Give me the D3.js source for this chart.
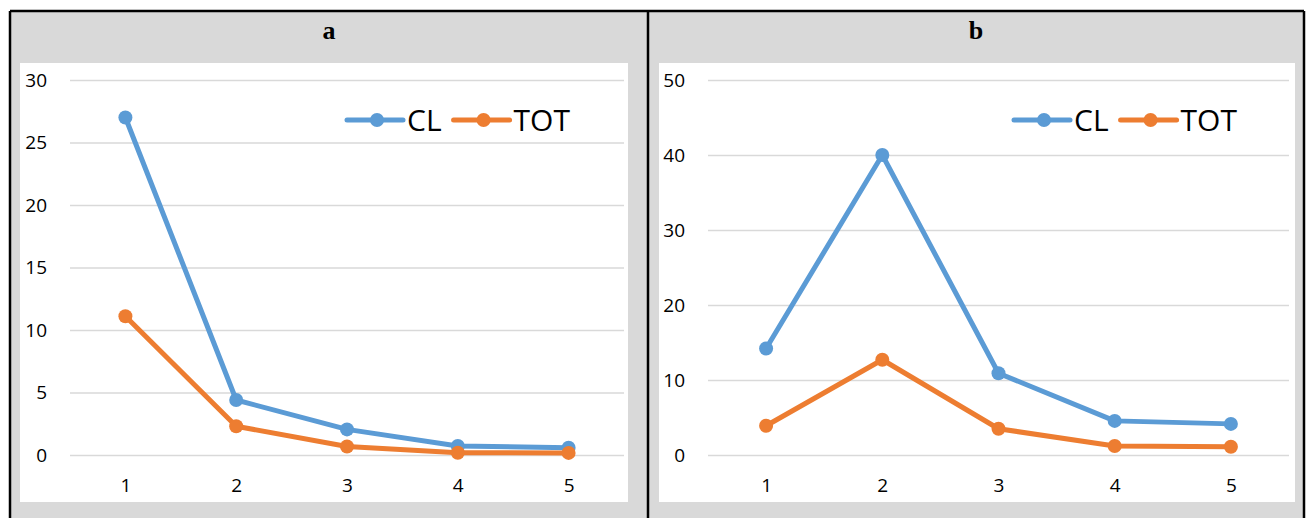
<!DOCTYPE html>
<html>
<head>
<meta charset="utf-8">
<script src="https://cdn.jsdelivr.net/npm/d3@7/dist/d3.min.js"></script>
<style>
  html, body { margin: 0; padding: 0; background: #ffffff; }
  svg { display: block; }
</style>
</head>
<body>
<svg id="chart" width="1306" height="518"></svg>
<script>
// Category labels shared by both panels
const categories = [1, 2, 3, 4, 5];
const panelTitles = ["a", "b"];
const seriesNames = ["CL", "TOT"];

// Panel a values
const clA  = [27.0, 4.4, 2.05, 0.72, 0.58];
const totA = [11.1, 2.3, 0.68, 0.18, 0.17];

// Panel b values
const clB  = [14.2, 40.0, 10.9, 4.55, 4.15];
const totB = [3.9, 12.7, 3.5, 1.2, 1.1];

// Y tick labels
const ticksA = [0, 5, 10, 15, 20, 25, 30];
const ticksB = [0, 10, 20, 30, 40, 50];

const colors = { CL: "#5b9bd5", TOT: "#ed7d31" };
const gridColor = "#d9d9d9";
const cellFill = "#d9d9d9";
const tickFont = "'Open Sans', 'Liberation Sans', sans-serif";

const svg = d3.select("#chart");

// Table-like frame
const frame = { left: 10, right: 1304, top: 11, bottom: 540, divider: 648 };
svg.append("rect")
  .attr("x", frame.left).attr("y", frame.top)
  .attr("width", frame.right - frame.left).attr("height", frame.bottom - frame.top)
  .attr("fill", cellFill);

// Layout of each panel
const layouts = [
  { cell: [frame.left, frame.divider], white: [20, 628], grid: [70, 624], legendX: 347 },
  { cell: [frame.divider, frame.right], white: [659, 1295], grid: [708, 1289], legendX: 1014 }
];
const panels = [
  { title: panelTitles[0], series: [clA, totA], ticks: ticksA },
  { title: panelTitles[1], series: [clB, totB], ticks: ticksB }
];

const whiteTop = 63, whiteBottom = 502;
const yZero = 455, yTop = 80;
const legendY = 120;

panels.forEach((p, i) => {
  const L = layouts[i];
  const g = svg.append("g");

  // Header label
  g.append("text")
    .attr("x", (L.cell[0] + L.cell[1]) / 2)
    .attr("y", 39)
    .attr("text-anchor", "middle")
    .attr("font-family", "'Liberation Serif', 'Times New Roman', serif")
    .attr("font-weight", "bold")
    .attr("font-size", 26)
    .attr("fill", "#000")
    .text(p.title);

  // Chart area
  g.append("rect")
    .attr("x", L.white[0]).attr("y", whiteTop)
    .attr("width", L.white[1] - L.white[0]).attr("height", whiteBottom - whiteTop)
    .attr("fill", "#ffffff");

  const x = d3.scalePoint().domain(categories).range(L.grid).padding(0.5);
  const y = d3.scaleLinear().domain([0, d3.max(p.ticks)]).range([yZero, yTop]);

  // Y axis with gridlines
  const yAxis = g.append("g")
    .attr("transform", `translate(${L.grid[0]},0)`)
    .call(d3.axisLeft(y).tickValues(p.ticks).tickSize(-(L.grid[1] - L.grid[0])).tickPadding(23));
  yAxis.select(".domain").remove();
  yAxis.selectAll(".tick line").attr("stroke", gridColor).attr("stroke-width", 1.5);
  yAxis.selectAll(".tick text")
    .attr("font-family", tickFont).attr("font-size", 19).attr("fill", "#000");

  // X axis labels
  const xAxis = g.append("g")
    .attr("transform", `translate(0,${yZero})`)
    .call(d3.axisBottom(x).tickSize(0).tickPadding(24));
  xAxis.select(".domain").remove();
  xAxis.selectAll(".tick text")
    .attr("font-family", tickFont).attr("font-size", 19).attr("fill", "#000");

  // Series lines and markers
  const line = d3.line().x((d, k) => x(categories[k])).y(d => y(d));
  p.series.forEach((vals, s) => {
    const c = colors[seriesNames[s]];
    g.append("path")
      .datum(vals)
      .attr("d", line)
      .attr("fill", "none")
      .attr("stroke", c)
      .attr("stroke-width", 5)
      .attr("stroke-linejoin", "round");
    g.selectAll(null)
      .data(vals)
      .enter().append("circle")
      .attr("cx", (d, k) => x(categories[k]))
      .attr("cy", d => y(d))
      .attr("r", 7)
      .attr("fill", c);
  });

  // Legend
  const leg = g.append("g").attr("transform", `translate(${L.legendX},${legendY})`);
  let lx = 0;
  seriesNames.forEach((name) => {
    const c = colors[name];
    leg.append("line")
      .attr("x1", lx).attr("x2", lx + 56).attr("y1", 0).attr("y2", 0)
      .attr("stroke", c).attr("stroke-width", 5).attr("stroke-linecap", "round");
    leg.append("circle").attr("cx", lx + 30).attr("cy", 0).attr("r", 7).attr("fill", c);
    const t = leg.append("text")
      .attr("x", lx + 60).attr("y", 0).attr("dy", "0.36em")
      .attr("font-family", tickFont).attr("font-size", 30).attr("fill", "#000")
      .text(name);
    lx += 60 + t.node().getComputedTextLength() + 12;
  });
});

// Frame lines
const frameLines = [
  [frame.left, frame.top, frame.right, frame.top],
  [frame.left, frame.top, frame.left, frame.bottom],
  [frame.right, frame.top, frame.right, frame.bottom],
  [frame.divider, frame.top, frame.divider, frame.bottom]
];
svg.selectAll(null).data(frameLines).enter().append("line")
  .attr("x1", d => d[0]).attr("y1", d => d[1])
  .attr("x2", d => d[2]).attr("y2", d => d[3])
  .attr("stroke", "#000").attr("stroke-width", 2.5);
</script>
</body>
</html>
